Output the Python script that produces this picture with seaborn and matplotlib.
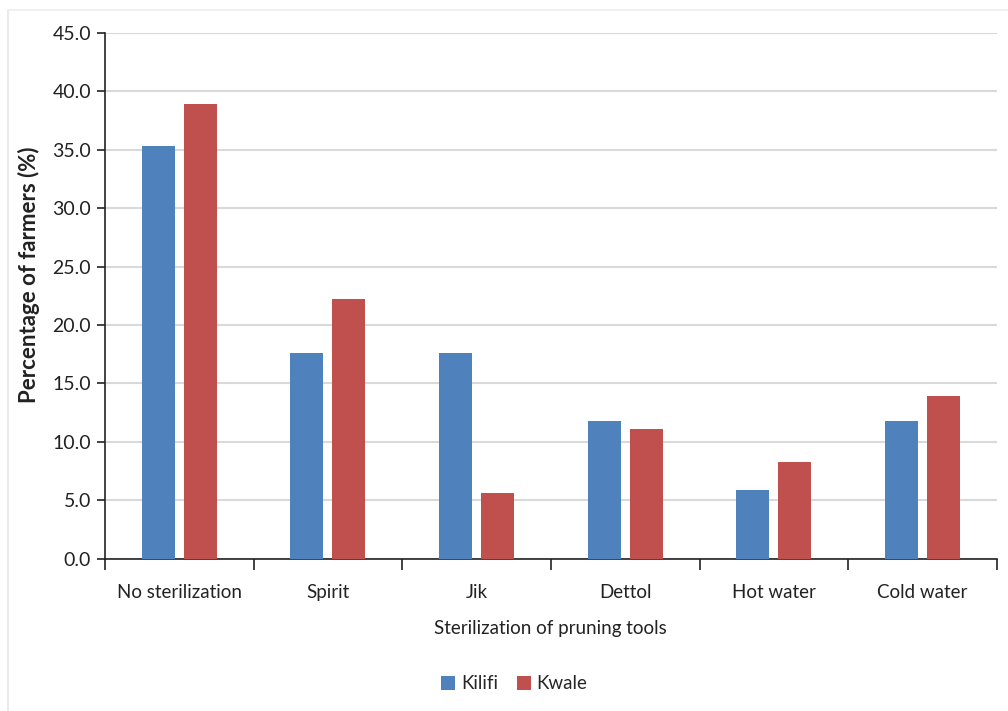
import matplotlib
matplotlib.use("Agg")
import matplotlib.pyplot as plt
import seaborn as sns
import pandas as pd
from matplotlib.lines import Line2D
from matplotlib.patches import Patch

categories = ["No sterilization", "Spirit", "Jik", "Dettol", "Hot water", "Cold water"]
kilifi = [35.3, 17.6, 17.6, 11.8, 5.9, 11.8]
kwale = [38.9, 22.2, 5.6, 11.1, 8.3, 13.9]
counties = ["Kilifi", "Kwale"]
colors = ["#4F81BD", "#C0504D"]

df = pd.DataFrame({
    "method": categories * 2,
    "county": [counties[0]] * len(categories) + [counties[1]] * len(categories),
    "pct": kilifi + kwale,
})

sns.set_theme(style="white")
plt.rcParams["font.family"] = ["Lato", "DejaVu Sans"]

fig = plt.figure(figsize=(10.08, 7.11), dpi=100)
ax = fig.add_axes([0.104, 0.214, 0.885, 0.740])

sns.barplot(data=df, x="method", y="pct", hue="county", order=categories,
            hue_order=counties, palette=colors, width=0.565, gap=0.21,
            saturation=1, errorbar=None, ax=ax, legend=False, zorder=3,
            linewidth=0, edgecolor="none")

ax.set_ylim(0, 45)
ax.set_xlim(-0.5, len(categories) - 0.5)
ax.set_yticks([i * 5 for i in range(10)])
ax.set_yticklabels([f"{i * 5:.1f}" for i in range(10)], fontsize=14, color="#222222")
ax.yaxis.grid(True, color="#d9d9d9", linewidth=1.5, zorder=0)
ax.set_axisbelow(True)

for s in ["top", "right"]:
    ax.spines[s].set_visible(False)
for s in ["left", "bottom"]:
    ax.spines[s].set_color("#222222")
    ax.spines[s].set_linewidth(1.2)

ax.tick_params(axis="y", which="major", left=True, length=6, width=1.2,
               color="#222222", pad=4, direction="out")
ax.tick_params(axis="x", which="major", bottom=False, length=0, pad=18,
               labelsize=13.5, labelcolor="#222222")
ax.set_xticks([i - 0.5 for i in range(len(categories) + 1)], minor=True)
ax.tick_params(axis="x", which="minor", bottom=True, length=8, width=1.2,
               color="#222222", direction="out")

ax.set_xlabel("Sterilization of pruning tools", fontsize=13.5, color="#222222", labelpad=14)
ax.set_ylabel("Percentage of farmers (%)", fontsize=16, fontweight="bold",
              color="#222222")
ax.yaxis.set_label_coords(-0.073, 0.54)

handles = [Patch(facecolor=c, edgecolor="none", label=l) for c, l in zip(colors, counties)]
fig.legend(handles=handles, loc="center", bbox_to_anchor=(0.51, 0.038), ncol=2,
           frameon=False, fontsize=13.5, handlelength=0.75, handleheight=0.75,
           handletextpad=0.3, columnspacing=1.0)

# faint outer frame
fig.add_artist(Line2D([0.008, 0.008], [0.0, 0.986], color="#e6e6e6", linewidth=1.2))
fig.add_artist(Line2D([0.008, 1.0], [0.986, 0.986], color="#eeeeee", linewidth=1.2))

fig.savefig("out.png", dpi=100, facecolor="white")
